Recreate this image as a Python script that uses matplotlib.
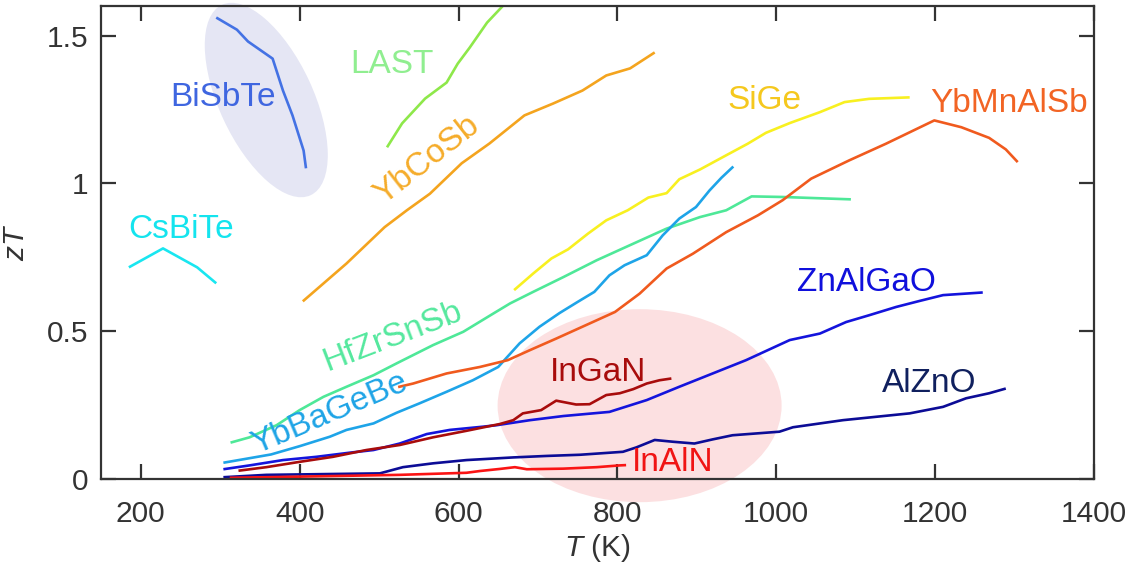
import matplotlib
matplotlib.use("Agg")
import matplotlib.pyplot as plt
from matplotlib.patches import Ellipse
import matplotlib.transforms as mtransforms

plt.rcParams['font.family'] = ['Liberation Sans', 'DejaVu Sans']
plt.rcParams['mathtext.fontset'] = 'custom'
plt.rcParams['mathtext.rm'] = 'Liberation Sans'
plt.rcParams['mathtext.it'] = 'Liberation Sans:italic'

# ---------------- data (T in K, zT) ----------------
bisbte_T = [295, 321, 335, 366, 379, 391, 405, 408]
bisbte_zT = [1.561, 1.520, 1.480, 1.422, 1.314, 1.230, 1.111, 1.051]

csbite_T = [185, 228, 271, 295]
csbite_zT = [0.716, 0.780, 0.716, 0.662]

last_T = [510, 529, 558, 585, 599, 614, 636, 655, 662]
last_zT = [1.122, 1.203, 1.287, 1.341, 1.405, 1.459, 1.544, 1.598, 1.620]

ybcosb_T = [404, 459, 507, 535, 564, 604, 639, 683, 719, 756, 786, 816, 847]
ybcosb_zT = [0.601, 0.729, 0.852, 0.909, 0.965, 1.068, 1.135, 1.230, 1.270, 1.314, 1.365, 1.389, 1.443]

sige_T = [670, 694, 717, 738, 763, 786, 813, 839, 862, 878, 904, 937, 964, 987,
          1017, 1055, 1086, 1117, 1168]
sige_zT = [0.639, 0.695, 0.746, 0.777, 0.830, 0.875, 0.909, 0.952, 0.967, 1.014,
           1.047, 1.095, 1.134, 1.171, 1.204, 1.241, 1.275, 1.286, 1.291]

ybbagebe_T = [304, 364, 400, 438, 459, 493, 522, 551, 585, 618, 650, 677, 702, 727,
              750, 771, 790, 809, 837, 857, 878, 899, 916, 931, 946]
ybbagebe_zT = [0.055, 0.083, 0.111, 0.143, 0.166, 0.188, 0.224, 0.256, 0.295, 0.334,
               0.379, 0.459, 0.515, 0.561, 0.599, 0.633, 0.689, 0.723, 0.757, 0.824,
               0.881, 0.920, 0.976, 1.019, 1.057]

hfzrsnsb_T = [313, 337, 371, 400, 430, 459, 493, 522, 568, 606, 644, 665, 694, 732,
              774, 820, 862, 904, 937, 969, 1008, 1094]
hfzrsnsb_zT = [0.123, 0.141, 0.182, 0.233, 0.278, 0.312, 0.351, 0.391, 0.453, 0.498,
               0.560, 0.594, 0.633, 0.683, 0.740, 0.796, 0.847, 0.886, 0.909, 0.956,
               0.954, 0.946]

ybmnalsb_T = [524, 543, 585, 627, 662, 690, 723, 765, 797, 828, 862, 895, 937, 977,
              1008, 1044, 1092, 1138, 1199, 1233, 1268, 1289, 1304]
ybmnalsb_zT = [0.311, 0.323, 0.357, 0.379, 0.402, 0.436, 0.475, 0.526, 0.565, 0.627,
               0.712, 0.762, 0.835, 0.892, 0.943, 1.016, 1.078, 1.134, 1.213, 1.190,
               1.154, 1.115, 1.072]

znalgao_T = [304, 337, 379, 421, 463, 493, 526, 560, 589, 631, 648, 690, 732, 790,
             837, 878, 920, 962, 1017, 1055, 1088, 1117, 1151, 1180, 1210, 1260]
znalgao_zT = [0.033, 0.046, 0.064, 0.075, 0.089, 0.098, 0.120, 0.152, 0.166, 0.177,
              0.182, 0.199, 0.213, 0.227, 0.267, 0.312, 0.357, 0.402, 0.470, 0.492,
              0.531, 0.554, 0.582, 0.602, 0.622, 0.631]

alzno_T = [304, 358, 501, 530, 568, 610, 669, 711, 753, 807, 824, 847, 870, 897, 920,
           945, 1004, 1021, 1084, 1168, 1210, 1239, 1268, 1289]
alzno_zT = [0.006, 0.014, 0.019, 0.040, 0.053, 0.064, 0.073, 0.078, 0.082, 0.092,
            0.107, 0.132, 0.126, 0.120, 0.134, 0.148, 0.160, 0.175, 0.199, 0.222,
            0.244, 0.273, 0.290, 0.306]

ingan_T = [323, 358, 400, 442, 484, 526, 568, 610, 652, 669, 681, 704, 723, 748, 765,
           786, 803, 820, 837, 853, 868]
ingan_zT = [0.028, 0.040, 0.058, 0.075, 0.098, 0.115, 0.141, 0.163, 0.186, 0.199,
            0.222, 0.233, 0.265, 0.252, 0.253, 0.284, 0.290, 0.304, 0.323, 0.334, 0.340]

inaln_T = [312, 358, 442, 526, 610, 627, 652, 671, 686, 732, 774, 803, 811]
inaln_zT = [0.004, 0.006, 0.010, 0.014, 0.021, 0.027, 0.034, 0.040, 0.033, 0.035,
            0.040, 0.046, 0.047]

series = [
    (bisbte_T, bisbte_zT, '#4472e4'),
    (csbite_T, csbite_zT, '#19e6f0'),
    (last_T, last_zT, '#8ee84a'),
    (ybcosb_T, ybcosb_zT, '#f4a41e'),
    (sige_T, sige_zT, '#f8f020'),
    (hfzrsnsb_T, hfzrsnsb_zT, '#4ee898'),
    (ybbagebe_T, ybbagebe_zT, '#1ea4e8'),
    (ybmnalsb_T, ybmnalsb_zT, '#f05a1e'),
    (znalgao_T, znalgao_zT, '#1414dc'),
    (alzno_T, alzno_zT, '#0c0c96'),
    (ingan_T, ingan_zT, '#a80c0c'),
    (inaln_T, inaln_zT, '#fa1414'),
]

# label: text, x, y, rotation, color
labels = [
    ('BiSbTe', 303, 1.291, 0, '#3f66e0'),
    ('CsBiTe', 251, 0.845, 0, '#14e4ee'),
    ('LAST', 516, 1.402, 0, '#90ee90'),
    ('YbCoSb', 560, 1.078, 38, '#f5ac2a'),
    ('SiGe', 985, 1.280, 0, '#f5c81e'),
    ('YbMnAlSb', 1293, 1.270, 0, '#f26424'),
    ('HfZrSnSb', 517, 0.480, 21, '#55e89e'),
    ('YbBaGeBe', 438, 0.220, 23, '#1ea4e6'),
    ('InGaN', 776, 0.361, 0, '#a80c0c'),
    ('InAlN', 870, 0.057, 0, '#f01414'),
    ('ZnAlGaO', 1113, 0.666, 0, '#1010dc'),
    ('AlZnO', 1192, 0.324, 0, '#10205e'),
]

# highlight ellipses: centre (T, zT), width/height in px, angle, colour
ellipses = [
    (358, 1.282, 210, 94, -65, '#e5e6f4'),
    (828, 0.248, 284, 193, 0, '#fce0e1'),
]

fig = plt.figure(figsize=(11.38, 5.68), dpi=100)
ax = fig.add_axes([0.0888, 0.1567, 0.9613 - 0.0888, 0.9894 - 0.1567])

for cx, cy, w, h, ang, col in ellipses:
    tr = fig.dpi_scale_trans + mtransforms.ScaledTranslation(cx, cy, ax.transData)
    e = Ellipse((0, 0), w / 100, h / 100, angle=ang, transform=tr,
                facecolor=col, edgecolor='none', zorder=0.5, clip_on=False)
    ax.add_patch(e)

for T, z, col in series:
    ax.plot(T, z, color=col, lw=1.9, zorder=2, solid_capstyle='butt')

for txt, x, y, rot, col in labels:
    ax.text(x, y, txt, color=col, fontsize=24, rotation=rot, rotation_mode='anchor',
            ha='center', va='center', zorder=3)

ax.set_xlim(150, 1400)
ax.set_ylim(0, 1.6)
ax.set_xticks([200, 400, 600, 800, 1000, 1200, 1400])
ax.set_yticks([0, 0.5, 1, 1.5])
ax.set_yticklabels(['0', '0.5', '1', '1.5'])
ax.tick_params(direction='in', length=11, width=1.6, labelsize=21.5,
               top=True, right=True, colors='#333333')
ax.tick_params(axis='x', pad=15)
ax.tick_params(axis='y', pad=9)
for s in ax.spines.values():
    s.set_linewidth(1.6)
    s.set_color('#333333')
    s.set_zorder(4)
ax.set_xlabel(r'$T$ (K)', fontsize=21.5, color='#333333', labelpad=3)
ax.set_ylabel(r'$zT$', fontsize=21.5, color='#333333', labelpad=12)

fig.savefig('out.png', dpi=100)
